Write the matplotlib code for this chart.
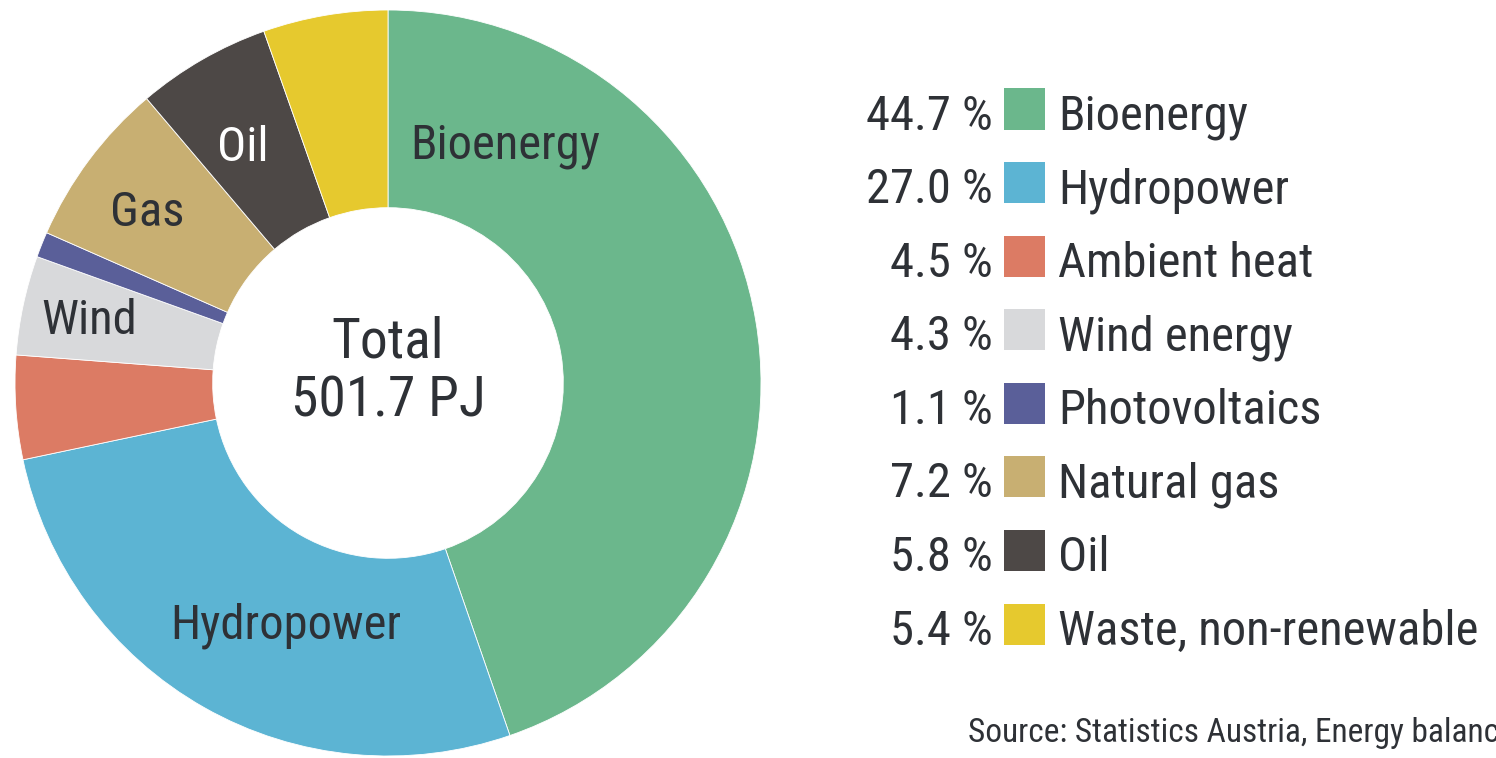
import matplotlib.pyplot as plt
from matplotlib import font_manager
from matplotlib.patches import Rectangle

# pick a narrow sans face if one is installed
narrow = None
for f in font_manager.fontManager.ttflist:
    if f.name in ("Liberation Sans Narrow", "Roboto Condensed", "Open Sans Condensed",
                  "Noto Sans Condensed", "Arial Narrow"):
        narrow = (f.name, "normal")
        break
if narrow is None:
    for want in ("Noto Sans", "Open Sans", "Roboto", "DejaVu Sans"):
        hits = [f for f in font_manager.fontManager.ttflist
                if f.name == want and f.stretch in ("condensed", "semi-condensed")
                and f.weight in (400, "normal", "regular") and f.style == "normal"]
        if hits:
            narrow = (want, hits[0].stretch)
            break
if narrow is None:
    narrow = ("DejaVu Sans", "normal")

plt.rcParams['font.family'] = [narrow[0], 'DejaVu Sans']
plt.rcParams['font.stretch'] = narrow[1]

# data
categories = ["Bioenergy", "Hydropower", "Ambient heat", "Wind energy",
              "Photovoltaics", "Natural gas", "Oil", "Waste, non-renewable"]
shares = [44.7, 27.0, 4.5, 4.3, 1.1, 7.2, 5.8, 5.4]
colors = ["#6BB78C", "#5CB4D3", "#DC7B64", "#D8D9DB",
          "#5A5F99", "#C8AF72", "#4D4846", "#E6C92E"]

# short labels drawn on the ring and where they sit (axes data units)
ring_labels = ["Bioenergy", "Hydropower", "", "Wind", "", "Gas", "Oil", ""]
ring_label_pos = [(0.315, 0.635), (-0.275, -0.65), None, (-0.8, 0.165),
                  None, (-0.645, 0.455), (-0.39, 0.63), None]
ring_label_colors = ["#2E3136", "#2E3136", None, "#2E3136",
                     None, "#2E3136", "#FFFFFF", None]

total_text = "Total\n501.7 PJ"
source_text = "Source: Statistics Austria, Energy balances"

W, H = 1496, 758
TEXT = "#2E3136"
FS = 35

fig = plt.figure(figsize=(W / 100, H / 100), dpi=100)

# donut
ax = fig.add_axes([15 / W, 2 / H, 746 / W, 746 / H])
ax.pie(shares, colors=colors, startangle=90, counterclock=False, radius=1.0,
       wedgeprops=dict(width=0.53, edgecolor="white", linewidth=0.6))
ax.set_xlim(-1, 1)
ax.set_ylim(-1, 1)
ax.set_aspect("equal")
ax.axis("off")

for lab, pos, col in zip(ring_labels, ring_label_pos, ring_label_colors):
    if lab:
        ax.text(pos[0], pos[1], lab, ha="center", va="center",
                fontsize=FS, color=col)

ax.text(0.0, 0.03, total_text, ha="center", va="center", fontsize=40,
        color=TEXT, linespacing=1.15)

# legend, drawn by hand in pixel-based figure coords
first_row = 109
row_step = 73.6
sq = 41
for i, (cat, val, col) in enumerate(zip(categories, shares, colors)):
    yc = first_row + i * row_step
    base = 1 - (yc + sq / 2) / H
    fig.patches.append(Rectangle((1004 / W, base), sq / W, sq / H,
                                 transform=fig.transFigure, facecolor=col,
                                 edgecolor="none"))
    fig.text(993 / W, base, f"{val:.1f} %", ha="right", va="baseline",
             fontsize=FS, color=TEXT)
    fig.text(1058 / W, base, cat, ha="left", va="baseline",
             fontsize=FS, color=TEXT)

# the source line runs past the right edge, as in the original
fig.text(968 / W, 1 - 742 / H, source_text, ha="left", va="baseline",
         fontsize=24, color=TEXT)

fig.savefig("out.png", dpi=100)
